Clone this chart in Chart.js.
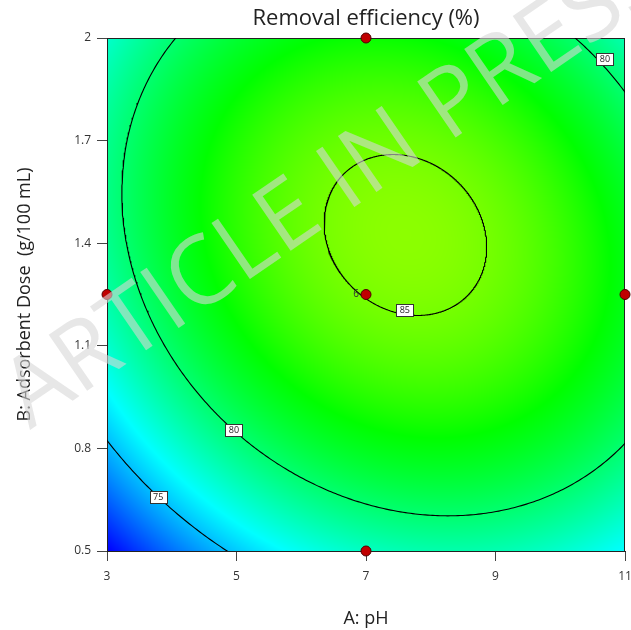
<!DOCTYPE html>
<html><head><meta charset="utf-8">
<script src="https://cdn.jsdelivr.net/npm/chart.js@4.4.1/dist/chart.umd.min.js"></script>
<style>html,body{margin:0;padding:0;background:#fff}#wrap{width:631px;height:630px}</style>
</head><body><div id="wrap"><canvas id="c" width="631" height="630"></canvas></div>
<script>
// ---- data ----
const chartTitle = 'Removal efficiency (%)';
const xAxisTitle = 'A: pH';
const yAxisTitle = 'B: Adsorbent Dose  (g/100 mL)';
const xTicks = [3, 5, 7, 9, 11];
const yTicks = [0.5, 0.8, 1.1, 1.4, 1.7, 2];
// design points
const designPH = [7, 3, 7, 11, 7];
const designDose = [2, 1.25, 1.25, 1.25, 0.5];
const designRepLabel = ['', '', '6', '', ''];
// quadratic model in coded units
const factorCenter = [7, 1.25];
const factorHalfRange = [4, 0.75];
const modelTerms = ['Intercept', 'A', 'B', 'AB', 'A2', 'B2'];
const modelCoef = [85.04, 1.74, 2.37, -1.40, -4.65, -4.65];
// contours
const contourLevels = [75, 80, 85];
const contourLabelText = ['75', '80', '80', '85'];
const contourLabelPH = [3.79, 4.96, 10.69, 7.60];
const contourLabelDose = [0.658, 0.854, 1.94, 1.205];
// colour scale
const colorStopValues = [70.3, 76.6, 82.6, 87.8];
const colorStopColors = [[0, 0, 255], [0, 255, 255], [0, 255, 0], [255, 255, 0]];
const watermarkText = 'ARTICLE IN PRESS';

// ---- helpers ----
const FONT = '"Open Sans", "Noto Sans", sans-serif';
function coded(v, i) { return (v - factorCenter[i]) / factorHalfRange[i]; }
function response(x, y) {
  const a = coded(x, 0), b = coded(y, 1), c = modelCoef;
  return c[0] + c[1] * a + c[2] * b + c[3] * a * b + c[4] * a * a + c[5] * b * b;
}
function colorFor(v) {
  const s = colorStopValues, col = colorStopColors;
  if (v <= s[0]) return col[0];
  for (let i = 1; i < s.length; i++) {
    if (v <= s[i]) {
      const t = (v - s[i - 1]) / (s[i] - s[i - 1]);
      return [0, 1, 2].map(k => col[i - 1][k] + t * (col[i][k] - col[i - 1][k]));
    }
  }
  return col[col.length - 1];
}
function contourPath(level) {
  const c = modelCoef;
  const det = 4 * c[4] * c[5] - c[3] * c[3];
  const as = (-2 * c[5] * c[1] + c[3] * c[2]) / det;
  const bs = (-2 * c[4] * c[2] + c[3] * c[1]) / det;
  const ymax = c[0] + c[1] * as + c[2] * bs + c[3] * as * bs + c[4] * as * as + c[5] * bs * bs;
  const pts = [];
  const n = 720;
  for (let k = 0; k <= n; k++) {
    const t = k / n * 2 * Math.PI, ct = Math.cos(t), st = Math.sin(t);
    const qf = c[4] * ct * ct + c[5] * st * st + c[3] * ct * st;
    const r = Math.sqrt((level - ymax) / qf);
    pts.push({ x: factorCenter[0] + factorHalfRange[0] * (as + r * ct),
               y: factorCenter[1] + factorHalfRange[1] * (bs + r * st) });
  }
  return pts;
}

// ---- plugins ----
const surfacePlugin = {
  id: 'surface',
  beforeDatasetsDraw(chart) {
    const { ctx, chartArea } = chart;
    const xs = chart.scales.x, ys = chart.scales.y;
    const L = Math.round(chartArea.left), T = Math.round(chartArea.top);
    const W = Math.round(chartArea.right) - L, H = Math.round(chartArea.bottom) - T;
    const off = document.createElement('canvas');
    off.width = W; off.height = H;
    const octx = off.getContext('2d');
    const img = octx.createImageData(W, H);
    for (let py = 0; py < H; py++) {
      const yv = ys.getValueForPixel(T + py + 0.5);
      for (let px = 0; px < W; px++) {
        const xv = xs.getValueForPixel(L + px + 0.5);
        const c = colorFor(response(xv, yv));
        const i = (py * W + px) * 4;
        img.data[i] = c[0]; img.data[i + 1] = c[1]; img.data[i + 2] = c[2]; img.data[i + 3] = 255;
      }
    }
    octx.putImageData(img, 0, 0);
    ctx.save();
    ctx.drawImage(off, L, T);
    ctx.strokeStyle = '#222';
    ctx.lineWidth = 1;
    ctx.strokeRect(L + 0.5, T + 0.5, W - 1, H);
    ctx.restore();
  },
  afterDatasetsDraw(chart) {
    const { ctx } = chart;
    const xs = chart.scales.x, ys = chart.scales.y;
    ctx.save();
    ctx.font = '9px ' + FONT;
    ctx.textAlign = 'center';
    ctx.textBaseline = 'middle';
    for (let i = 0; i < contourLabelText.length; i++) {
      const px = xs.getPixelForValue(contourLabelPH[i]);
      const py = ys.getPixelForValue(contourLabelDose[i]);
      const w = Math.round(ctx.measureText(contourLabelText[i]).width + 7), h = 12;
      const bx = Math.round(px - w / 2) + 0.5, by = Math.round(py - h / 2) + 0.5;
      ctx.fillStyle = '#fff';
      ctx.fillRect(bx, by, w, h);
      ctx.strokeStyle = '#333';
      ctx.lineWidth = 1;
      ctx.strokeRect(bx, by, w, h);
      ctx.fillStyle = '#222';
      ctx.fillText(contourLabelText[i], px, py + 0.5);
    }
    ctx.font = '10px ' + FONT;
    ctx.textAlign = 'right';
    ctx.fillStyle = '#333';
    for (let i = 0; i < designRepLabel.length; i++) {
      if (!designRepLabel[i]) continue;
      ctx.fillText(designRepLabel[i], xs.getPixelForValue(designPH[i]) - 7, ys.getPixelForValue(designDose[i]));
    }
    ctx.restore();
  },
  afterDraw(chart) {
    const { ctx } = chart;
    ctx.save();
    ctx.translate(30, 430);
    ctx.rotate(-34.5 * Math.PI / 180);
    ctx.font = '400 95px ' + FONT;
    ctx.fillStyle = 'rgba(215,215,215,0.6)';
    ctx.textBaseline = 'alphabetic';
    ctx.fillText(watermarkText, 0, 0);
    ctx.restore();
  }
};

// ---- datasets ----
const datasets = [{
  label: 'design',
  data: designPH.map((x, i) => ({ x, y: designDose[i] })),
  pointRadius: 5,
  pointBackgroundColor: '#c00000',
  pointBorderColor: '#500000',
  pointBorderWidth: 1,
  showLine: false,
  clip: 8
}];
contourLevels.forEach(lv => {
  datasets.push({
    label: 'contour ' + lv,
    data: contourPath(lv),
    showLine: true,
    pointRadius: 0,
    borderColor: '#000',
    borderWidth: 1.1,
    tension: 0,
    clip: 0
  });
});

new Chart(document.getElementById('c'), {
  type: 'scatter',
  data: { datasets },
  plugins: [surfacePlugin],
  options: {
    responsive: false,
    animation: false,
    events: [],
    layout: { padding: { left: 0, right: 6, top: 0, bottom: 0 } },
    plugins: {
      legend: { display: false },
      tooltip: { enabled: false },
      title: {
        display: true, text: chartTitle, fullSize: false,
        color: '#222', font: { family: FONT, size: 22, weight: 'normal' },
        padding: { top: 6, bottom: 5.6 }
      }
    },
    scales: {
      x: {
        type: 'linear', min: xTicks[0], max: xTicks[xTicks.length - 1],
        afterBuildTicks: s => { s.ticks = xTicks.map(v => ({ value: v })); },
        afterFit: s => { s.height = 79; s.paddingLeft = 0; s.paddingRight = 0; },
        grid: { drawOnChartArea: false, drawTicks: true, tickLength: 10, color: '#444' },
        border: { display: true, color: '#222' },
        ticks: { color: '#333', font: { family: FONT, size: 12 }, padding: 8, callback: v => String(v) },
        title: { display: true, text: xAxisTitle, color: '#222', font: { family: FONT, size: 18 }, padding: { top: 2, bottom: 0 } }
      },
      y: {
        type: 'linear', min: yTicks[0], max: yTicks[yTicks.length - 1],
        afterBuildTicks: s => { s.ticks = yTicks.map(v => ({ value: v })); },
        afterFit: s => { s.width = 107; s.paddingTop = 0; s.paddingBottom = 0; },
        grid: { drawOnChartArea: false, drawTicks: true, tickLength: 10, color: '#444' },
        border: { display: true, color: '#222' },
        ticks: { color: '#333', font: { family: FONT, size: 12 }, padding: 6, callback: v => String(v) },
        title: { display: true, text: yAxisTitle, color: '#222', font: { family: FONT, size: 18 }, padding: { top: 14, bottom: 0 } }
      }
    }
  }
});
</script>
</body></html>
